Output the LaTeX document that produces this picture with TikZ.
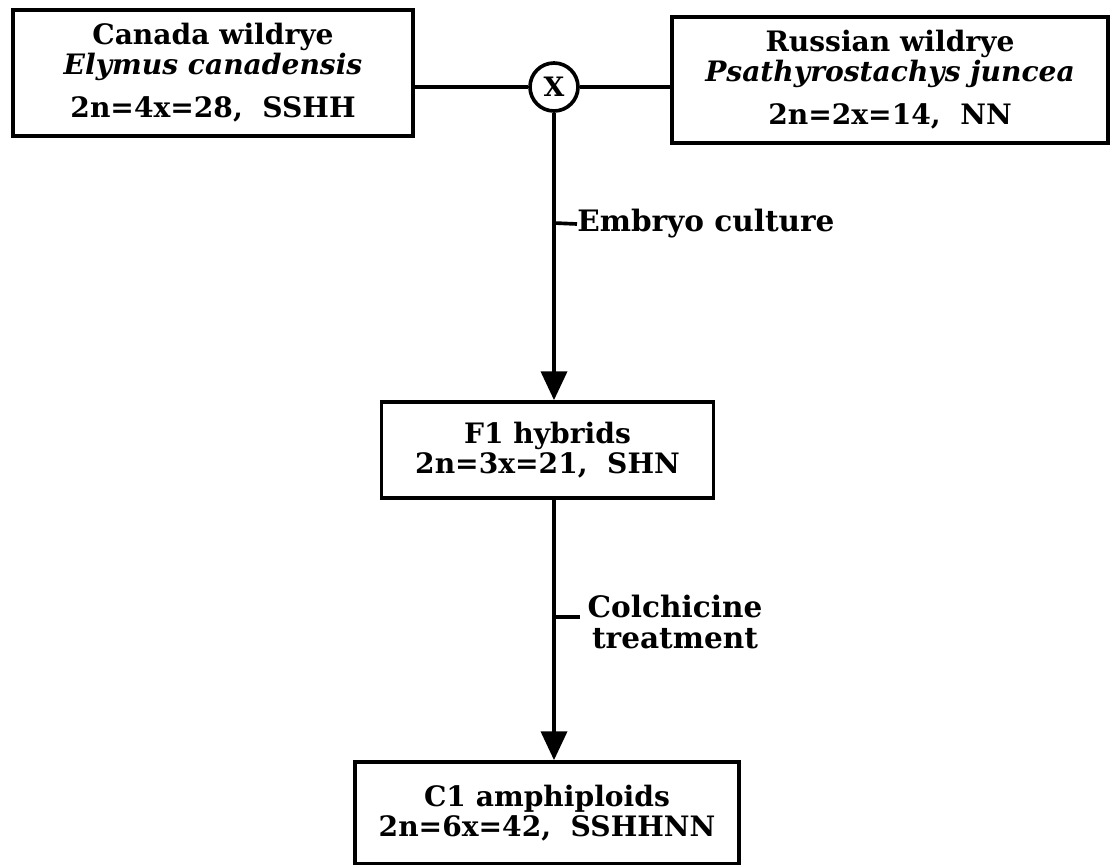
\documentclass[tikz,border=0pt]{standalone}
\usepackage{fontspec}
\setmainfont{DejaVu Serif}
\usepackage{tikz}
\usetikzlibrary{shapes.geometric, arrows.meta, positioning}
\newcommand{\species}[1]{{\itshape #1}}
\tikzstyle{block} = [rectangle, draw, line width=2.6pt, text centered, align=center, inner sep=0pt, font=\fontsize{20}{21}\selectfont\bfseries]
\tikzstyle{cross} = [circle, draw, line width=2.6pt, minimum size=1.2cm, inner sep=0pt, font=\fontsize{19}{19}\selectfont\bfseries]
\tikzstyle{note} = [align=center, inner sep=0pt, font=\fontsize{21}{25}\selectfont\bfseries]
\tikzstyle{link} = [line width=2.6pt]

\begin{document}
\begin{tikzpicture}[x=0.025cm, y=-0.025cm]
    \useasboundingbox (0,0) rectangle (1110,865);
    % Parents
    \node [block, minimum width=10cm, minimum height=3.15cm] (canada) at (213,73) {Canada wildrye \\ \species{Elymus canadensis} \\[10pt] 2n=4x=28,\ \ SSHH};
    \node [block, minimum width=10.9cm, minimum height=3.15cm] (russian) at (890,80) {Russian wildrye \\ \species{Psathyrostachys juncea} \\[10pt] 2n=2x=14,\ \ NN};
    \node [cross] (cross) at (554,87) {X};

    % Offspring
    \node [block, minimum width=8.3cm, minimum height=2.4cm] (hybrid) at (547.5,450) {F1 hybrids \\ 2n=3x=21,\ \ SHN};
    \node [block, minimum width=9.6cm, minimum height=2.55cm] (amphi) at (547,813) {C1 amphiploids \\ 2n=6x=42,\ \ SSHHNN};

    % Treatments
    \coordinate (embtick) at (554,223);
    \node [note, anchor=west] (embryo) at (577,224) {Embryo culture};
    \coordinate (coltick) at (554,617);
    \coordinate (colend) at (580,617);
    \node [note] (colch) at (675,622) {Colchicine \\[-3pt] treatment};

    % Edges
    \draw [link] (cross -| canada.east) -- (cross);
    \draw [link] (cross) -- (cross -| russian.west);
    \draw [link, -{Triangle[width=0.65cm, length=0.72cm]}] (cross) -- (cross |- hybrid.north);
    \draw [link, -{Triangle[width=0.65cm, length=0.72cm]}] (cross |- hybrid.south) -- (cross |- amphi.north);
    \draw [link] (embtick) -- (embryo.west);
    \draw [link] (coltick) -- (colend);
\end{tikzpicture}
\end{document}
